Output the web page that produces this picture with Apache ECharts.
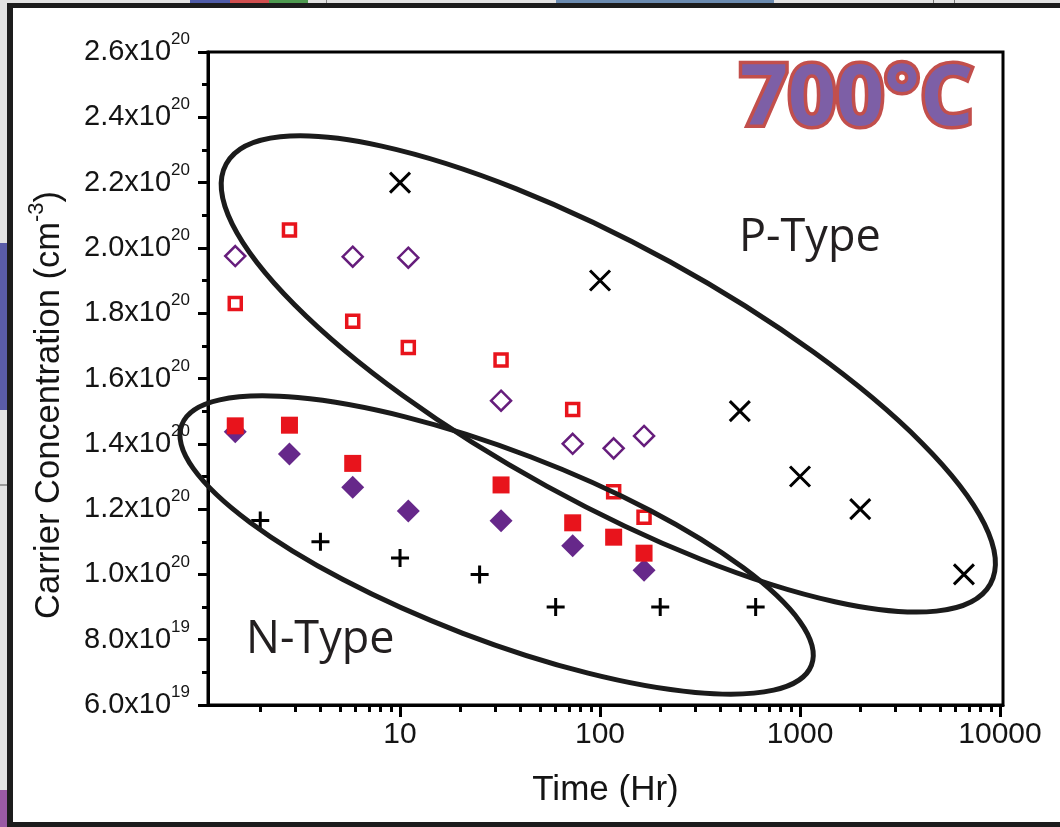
<!DOCTYPE html>
<html>
<head>
<meta charset="utf-8">
<title>Carrier Concentration vs Time, 700°C</title>
<script src="https://cdn.jsdelivr.net/npm/echarts@6/dist/echarts.min.js"></script>
<style>
  html, body { margin: 0; padding: 0; background: #e2e2e2; }
  #wrap { position: relative; width: 1060px; height: 827px; overflow: hidden; background: #e2e2e2; }
  .deco { position: absolute; }
  #panel {
    position: absolute; left: 7px; top: 3px; right: 0; bottom: 0;
    background: #fff;
    border-left: 6px solid #1c1c1c;
    border-top: 5px solid #1c1c1c;
    border-bottom: 5px solid #1c1c1c;
  }
  #chart { position: absolute; left: 0; top: 0; width: 1060px; height: 827px; }
</style>
</head>
<body>
<div id="wrap">
  <!-- slide window chrome around the figure -->
  <div class="deco" style="left:190px;top:0;width:40px;height:3px;background:#4f5ca8"></div>
  <div class="deco" style="left:230px;top:0;width:39px;height:3px;background:#d14f4f"></div>
  <div class="deco" style="left:269px;top:0;width:39px;height:3px;background:#4e9a50"></div>
  <div class="deco" style="left:326px;top:0;width:1px;height:3px;background:#888"></div>
  <div class="deco" style="left:556px;top:0;width:218px;height:3px;background:#6b8bb0"></div>
  <div class="deco" style="left:933px;top:0;width:1px;height:3px;background:#777"></div>
  <div class="deco" style="left:954px;top:0;width:1px;height:3px;background:#777"></div>
  <div class="deco" style="left:0;top:243px;width:7px;height:167px;background:#5a5ca8"></div>
  <div class="deco" style="left:0;top:484px;width:7px;height:2px;background:#999"></div>
  <div class="deco" style="left:0;top:790px;width:7px;height:37px;background:#9a5aa4"></div>
  <div id="panel"></div>
  <div id="chart"></div>
</div>
<script>
// ---- data -------------------------------------------------------------
// Time axis (hours, log scale) tick values
const majorTimeTicks = [10, 100, 1000, 10000];
const minorTimeTicks = [];
[1, 10, 100, 1000].forEach(function (d) {
  for (let k = 2; k <= 9; k++) minorTimeTicks.push(k * d);
});

// P-type, long anneal (crosses)
const crossTime = [10, 100, 500, 1000, 2000, 6600];
const crossConc = [2.2e20, 1.9e20, 1.5e20, 1.3e20, 1.2e20, 1.0e20];

// P-type, open squares
const openSquareTime = [1.5, 2.8, 5.8, 11, 32, 73, 117, 166];
const openSquareConc = [1.83e20, 2.055e20, 1.775e20, 1.695e20, 1.657e20, 1.505e20, 1.253e20, 1.175e20];

// P-type, open diamonds
const openDiamondTime = [1.5, 5.8, 11, 32, 73, 117, 166];
const openDiamondConc = [1.975e20, 1.973e20, 1.97e20, 1.532e20, 1.40e20, 1.386e20, 1.424e20];

// N-type, filled squares
const filledSquareTime = [1.5, 2.8, 5.8, 32, 73, 117, 166];
const filledSquareConc = [1.455e20, 1.457e20, 1.34e20, 1.274e20, 1.158e20, 1.114e20, 1.065e20];

// N-type, filled diamonds
const filledDiamondTime = [1.5, 2.8, 5.8, 11, 32, 73, 166];
const filledDiamondConc = [1.437e20, 1.369e20, 1.267e20, 1.194e20, 1.164e20, 1.088e20, 1.013e20];

// N-type, long anneal (plus signs)
const plusTime = [2, 4, 10, 25, 60, 200, 600];
const plusConc = [1.165e20, 1.1e20, 1.05e20, 1.0e20, 9.0e19, 9.0e19, 9.0e19];

// Group outlines: centre of each ellipse in data space
const groupNames = ['P-Type', 'N-Type'];
const groupCenterTime = [110, 30.4];
const groupCenterConc = [1.614e20, 1.09e20];

// ---- drawing ---------------------------------------------------------
const FONT = '"Liberation Sans", Arial, sans-serif';
const INK = '#141414';
const RED = '#e8141c';
const PURPLE = '#66288a';

// pixel geometry of the group outlines (semi-axes and tilt, degrees clockwise)
const outlineShape = [
  { rx: 436, ry: 128, tilt: 28.8 },
  { rx: 337, ry: 94.5, tilt: 20.9 }
];

function pairs(xs, ys) { return xs.map(function (x, i) { return [x, ys[i]]; }); }

function concLabel(v) {
  const e = Math.floor(Math.log10(v) + 1e-9);
  const m = (v / Math.pow(10, e)).toFixed(1);
  return m + 'x10{sup|' + e + '}';
}

const chart = echarts.init(document.getElementById('chart'), null, { renderer: 'canvas' });

const markerBase = { type: 'scatter', xAxisIndex: 0, yAxisIndex: 0, silent: true, emphasis: { disabled: true } };

const option = {
  animation: false,
  backgroundColor: 'transparent',
  grid: {
    left: 208, right: 57, top: 52, bottom: 122,
    show: true, borderColor: '#000', borderWidth: 3, backgroundColor: 'transparent'
  },
  xAxis: [
    {
      type: 'log', logBase: 10, min: 1.096, max: 10350,
      name: 'Time (Hr)', nameLocation: 'middle', nameGap: 68,
      nameTextStyle: { fontFamily: FONT, fontSize: 35, color: INK },
      axisLine: { show: true, onZero: false, lineStyle: { color: '#000', width: 3 } },
      axisTick: { show: true, customValues: majorTimeTicks, length: 12, lineStyle: { color: '#000', width: 3 } },
      axisLabel: {
        customValues: majorTimeTicks, fontFamily: FONT, fontSize: 30, color: INK, margin: 15,
        formatter: function (v) { return String(Math.round(v)); }
      },
      splitLine: { show: false }
    },
    {
      type: 'log', logBase: 10, min: 1.096, max: 10350, position: 'bottom',
      axisLine: { show: false },
      axisTick: { show: true, customValues: minorTimeTicks, length: 7, lineStyle: { color: '#000', width: 3 } },
      axisLabel: { show: false },
      splitLine: { show: false }
    }
  ],
  yAxis: {
    type: 'value', min: 6e19, max: 2.6e20, interval: 2e19,
    axisLine: { show: true, onZero: false, lineStyle: { color: '#000', width: 3 } },
    axisTick: { show: true, length: 10, lineStyle: { color: '#000', width: 3 } },
    minorTick: { show: true, splitNumber: 2, length: 6, lineStyle: { color: '#000', width: 3 } },
    splitLine: { show: false },
    minorSplitLine: { show: false },
    axisLabel: {
      margin: 18, fontFamily: FONT, fontSize: 29, color: INK, lineHeight: 42,
      formatter: concLabel,
      rich: { sup: { fontFamily: FONT, fontSize: 17, lineHeight: 19, verticalAlign: 'top', color: INK } }
    }
  },
  series: [
    Object.assign({}, markerBase, {
      name: 'open diamond', data: pairs(openDiamondTime, openDiamondConc),
      symbol: 'diamond', symbolSize: 20,
      itemStyle: { color: '#fff', borderColor: '#661d7c', borderWidth: 2.5, opacity: 1 }
    }),
    Object.assign({}, markerBase, {
      name: 'open square', data: pairs(openSquareTime, openSquareConc),
      symbol: 'rect', symbolSize: 12,
      itemStyle: { color: '#fff', borderColor: RED, borderWidth: 3.5, opacity: 1 }
    }),
    Object.assign({}, markerBase, {
      name: 'filled diamond', data: pairs(filledDiamondTime, filledDiamondConc),
      symbol: 'diamond', symbolSize: 23,
      itemStyle: { color: PURPLE, opacity: 1 }
    }),
    Object.assign({}, markerBase, {
      name: 'filled square', data: pairs(filledSquareTime, filledSquareConc),
      symbol: 'rect', symbolSize: 17,
      itemStyle: { color: RED, opacity: 1 }
    }),
    Object.assign({}, markerBase, {
      name: 'cross', data: pairs(crossTime, crossConc),
      symbol: 'path://M0,0L10,10M10,0L0,10', symbolSize: 20,
      itemStyle: { color: '#000', borderColor: '#000', borderWidth: 3, opacity: 1 }
    }),
    Object.assign({}, markerBase, {
      name: 'plus', data: pairs(plusTime, plusConc),
      symbol: 'path://M5,0L5,10M0,5L10,5', symbolSize: 18,
      itemStyle: { color: '#000', borderColor: '#000', borderWidth: 3, opacity: 1 }
    }),
    {
      type: 'custom', name: 'groups', silent: true, z: 5, clip: false,
      xAxisIndex: 0, yAxisIndex: 0,
      data: groupNames.map(function (n, i) { return { name: n, value: [groupCenterTime[i], groupCenterConc[i]] }; }),
      renderItem: function (params, api) {
        const c = api.coord([api.value(0), api.value(1)]);
        const g = outlineShape[params.dataIndex];
        return {
          type: 'ellipse',
          x: c[0], y: c[1],
          rotation: -g.tilt * Math.PI / 180,
          shape: { cx: 0, cy: 0, rx: g.rx, ry: g.ry },
          style: { fill: 'none', stroke: '#1b1b1b', lineWidth: 5 }
        };
      }
    }
  ],
  graphic: [
    {
      type: 'text', x: 49, y: 405, rotation: Math.PI / 2, silent: true,
      style: {
        text: 'Carrier Concentration (cm{sup|-3})',
        fontFamily: FONT, fontSize: 34.5, fill: INK, lineHeight: 46,
        align: 'center', verticalAlign: 'middle',
        rich: { sup: { fontFamily: FONT, fontSize: 22, fill: INK, lineHeight: 23, verticalAlign: 'top' } }
      }
    },
    {
      type: 'text', x: 740, y: 101, silent: true, z: 10,
      style: {
        text: '700°C', fontFamily: '"Open Sans", sans-serif', fontWeight: 'bold', fontSize: 84,
        fill: '#7d5fa6', stroke: '#c24f4c', lineWidth: 7, strokeFirst: true,
        align: 'left', verticalAlign: 'middle'
      }
    },
    {
      type: 'text', x: 739, y: 238, silent: true,
      style: { text: 'P-Type', fontFamily: '"Open Sans", sans-serif', fontSize: 45, fill: '#231f20', align: 'left', verticalAlign: 'middle' }
    },
    {
      type: 'text', x: 246, y: 640, silent: true,
      style: { text: 'N-Type', fontFamily: '"Open Sans", sans-serif', fontSize: 45, fill: '#231f20', align: 'left', verticalAlign: 'middle' }
    }
  ]
};

chart.setOption(option);
</script>
</body>
</html>
